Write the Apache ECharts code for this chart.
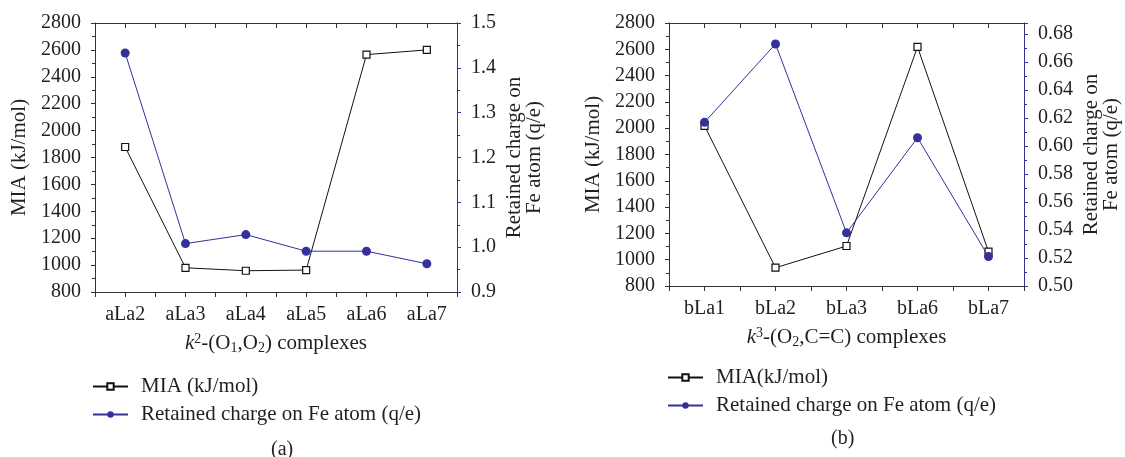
<!DOCTYPE html>
<html>
<head>
<meta charset="utf-8">
<script src="https://cdn.jsdelivr.net/npm/echarts@6/dist/echarts.min.js"></script>
<style>
  html, body { margin: 0; padding: 0; background: #fff; }
  #main { width: 1125px; height: 457px; }
</style>
</head>
<body>
<div id="main"></div>
<script>
// (a) k2-(O1,O2) complexes
var catsA = ['aLa2', 'aLa3', 'aLa4', 'aLa5', 'aLa6', 'aLa7'];
var miaA = [1878, 980, 958, 963, 2565, 2600];
var chargeA = [1.433, 1.008, 1.028, 0.991, 0.991, 0.963];

// (b) k3-(O2,C=C) complexes
var catsB = ['bLa1', 'bLa2', 'bLa3', 'bLa6', 'bLa7'];
var miaB = [2018, 939, 1104, 2618, 1061];
var chargeB = [0.617, 0.673, 0.538, 0.606, 0.521];

var FONT = 'Liberation Serif';
var TXT = '#231f20';
var AXIS = '#333';
var BLUE = '#35309a';

var chart = echarts.init(document.getElementById('main'));

function xAxes(grid, cats, name) {
  var base = {
    type: 'category', gridIndex: grid, data: cats, boundaryGap: true
  };
  return [
    Object.assign({}, base, {
      position: 'bottom',
      axisLine: { lineStyle: { color: AXIS, width: 1 } },
      axisTick: { show: true, alignWithLabel: false, length: 5, lineStyle: { color: AXIS } },
      axisLabel: { color: TXT, fontFamily: FONT, fontSize: 20, margin: 13 },
      splitLine: { show: false },
      name: name,
      nameLocation: 'middle',
      nameGap: 40,
      nameTextStyle: {
        color: TXT, fontFamily: FONT, fontSize: 21,
        rich: {
          i: { fontStyle: 'italic', fontFamily: FONT, fontSize: 21, color: TXT },
          sup: { fontFamily: FONT, fontSize: 14, color: TXT, verticalAlign: 'top', padding: [0, 0, 9, 0] },
          sub: { fontFamily: FONT, fontSize: 14, color: TXT, verticalAlign: 'bottom', padding: [9, 0, 0, 0] },
          n: { fontFamily: FONT, fontSize: 21, color: TXT }
        }
      }
    }),
    Object.assign({}, base, {
      position: 'bottom',
      axisLine: { show: false },
      axisTick: { show: true, alignWithLabel: true, length: 5, lineStyle: { color: AXIS } },
      axisLabel: { show: false },
      splitLine: { show: false }
    }),
    Object.assign({}, base, {
      position: 'top',
      axisLine: { lineStyle: { color: AXIS, width: 1 } },
      axisTick: { show: true, inside: true, alignWithLabel: false, length: 5, lineStyle: { color: AXIS } },
      axisLabel: { show: false },
      splitLine: { show: false }
    }),
    Object.assign({}, base, {
      position: 'top',
      axisLine: { show: false },
      axisTick: { show: true, inside: true, alignWithLabel: true, length: 5, lineStyle: { color: AXIS } },
      axisLabel: { show: false },
      splitLine: { show: false }
    })
  ];
}

function leftAxis(grid) {
  return {
    type: 'value', gridIndex: grid, position: 'left',
    min: 800, max: 2800, interval: 200,
    axisLine: { show: true, lineStyle: { color: AXIS } },
    axisTick: { show: true, length: 4, lineStyle: { color: AXIS } },
    minorTick: { show: true, splitNumber: 2, length: 3, lineStyle: { color: AXIS } },
    axisLabel: {
      color: TXT, fontFamily: FONT, fontSize: 20, margin: 14,
      formatter: function (v) { return String(v); }
    },
    splitLine: { show: false },
    name: 'MIA (kJ/mol)',
    nameLocation: 'middle',
    nameGap: 65,
    nameTextStyle: { color: TXT, fontFamily: FONT, fontSize: 21 }
  };
}

function rightAxis(grid, min, max, step, digits, gap) {
  return {
    type: 'value', gridIndex: grid, position: 'right',
    min: min, max: max, interval: step,
    axisLine: { show: true, lineStyle: { color: BLUE } },
    axisTick: { show: true, length: 4, lineStyle: { color: BLUE } },
    minorTick: { show: true, splitNumber: 2, length: 3, lineStyle: { color: BLUE } },
    axisLabel: {
      color: TXT, fontFamily: FONT, fontSize: 20, margin: 14,
      showMaxLabel: digits === 2 ? false : true,
      formatter: function (v) { return v.toFixed(digits); }
    },
    splitLine: { show: false },
    name: 'Retained charge on\nFe atom (q/e)',
    nameLocation: 'middle',
    nameGap: gap,
    nameTextStyle: { color: TXT, fontFamily: FONT, fontSize: 21, lineHeight: 20 }
  };
}

function miaSeries(name, data, xi, yi) {
  return {
    name: name, type: 'line', data: data,
    xAxisIndex: xi, yAxisIndex: yi,
    symbol: 'rect', symbolSize: 7,
    lineStyle: { color: '#111', width: 1 },
    itemStyle: { color: '#fff', borderColor: '#111', borderWidth: 1.2 },
    z: 3
  };
}

function chargeSeries(name, data, xi, yi) {
  return {
    name: name, type: 'line', data: data,
    xAxisIndex: xi, yAxisIndex: yi,
    symbol: 'circle', symbolSize: 9,
    lineStyle: { color: BLUE, width: 1 },
    itemStyle: { color: BLUE, borderColor: BLUE, borderWidth: 0 },
    z: 4
  };
}

var legendText = { color: TXT, fontFamily: FONT, fontSize: 21, padding: [0, 0, 0, 8] };

var option = {
  animation: false,
  backgroundColor: '#fff',
  grid: [
    { left: 95, right: 668, top: 23, bottom: 165 },
    { left: 669, right: 101, top: 23, bottom: 171 }
  ],
  xAxis: [].concat(
    xAxes(0, catsA, '{i|k}{sup|2}{n|-(O}{sub|1}{n|,O}{sub|2}{n|) complexes}'),
    xAxes(1, catsB, '{i|k}{sup|3}{n|-(O}{sub|2}{n|,C=C) complexes}')
  ),
  yAxis: [
    leftAxis(0),
    rightAxis(0, 0.9, 1.5, 0.1, 1, 47),
    leftAxis(1),
    rightAxis(1, 0.5, 0.688, 0.02, 2, 57)
  ],
  legend: [
    {
      orient: 'vertical', left: 87, top: 371, itemGap: 7,
      itemWidth: 35, itemHeight: 8,
      textStyle: legendText,
      data: ['MIA (kJ/mol)', 'Retained charge on Fe atom (q/e)']
    },
    {
      orient: 'vertical', left: 662, top: 362, itemGap: 7,
      itemWidth: 35, itemHeight: 8,
      textStyle: legendText,
      data: ['MIA(kJ/mol)', 'Retained charge on Fe atom (q/e) ']
    }
  ],
  graphic: [
    { type: 'text', left: 271, top: 440, style: { text: '(a)', font: '20px "Liberation Serif"', fill: TXT } },
    { type: 'text', left: 831, top: 429, style: { text: '(b)', font: '20px "Liberation Serif"', fill: TXT } }
  ],
  series: [
    miaSeries('MIA (kJ/mol)', miaA, 0, 0),
    chargeSeries('Retained charge on Fe atom (q/e)', chargeA, 0, 1),
    miaSeries('MIA(kJ/mol)', miaB, 4, 2),
    chargeSeries('Retained charge on Fe atom (q/e) ', chargeB, 4, 3)
  ]
};

chart.setOption(option);
</script>
</body>
</html>
